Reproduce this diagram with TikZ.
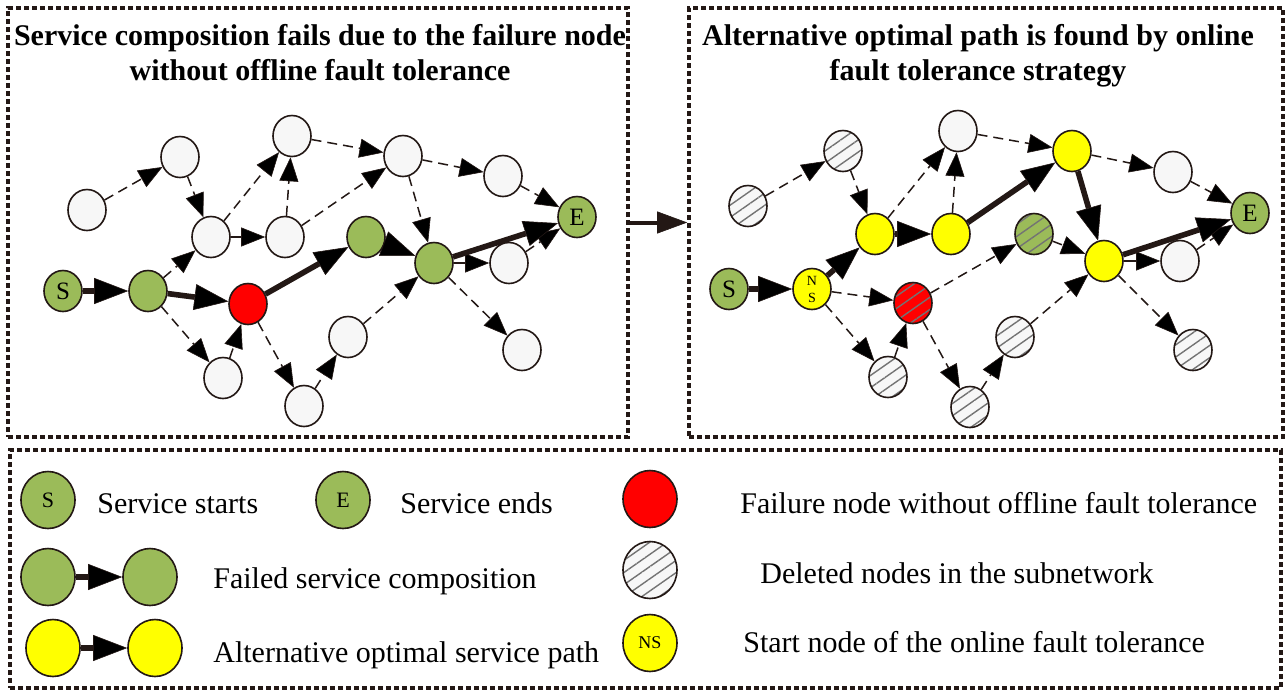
\documentclass[tikz,border=0pt]{standalone}
\usepackage{fontspec}
\setmainfont{Liberation Serif}
\usetikzlibrary{shapes.geometric,arrows.meta,patterns.meta}

\definecolor{ink}{HTML}{231815}
\definecolor{okgreen}{HTML}{9BBB59}
\definecolor{idle}{HTML}{F7F7F7}
\definecolor{failred}{HTML}{FF0000}
\definecolor{altyellow}{HTML}{FFFF00}

\begin{document}
\begin{tikzpicture}[x=0.5pt,y=-0.5pt,
  svc/.style={ellipse,draw=ink,line width=0.8pt,fill=idle,inner sep=0pt,
    minimum width=19pt,minimum height=20.5pt,font=\fontsize{12.5}{12.5}\selectfont},
  big/.style={svc,minimum width=27pt,minimum height=28.5pt,font=\fontsize{11}{11}\selectfont},
  good/.style={fill=okgreen},
  fail/.style={fill=failred},
  alt/.style={fill=altyellow},
  gone/.style={preaction={fill=#1},pattern={Lines[angle=35,distance=5pt,line width=0.7pt]},
    pattern color=black!55},
  gone/.default=idle,
  panel/.style={draw=ink,line width=1.8pt,dash pattern=on 2.5pt off 1.5pt,inner sep=0pt},
  heading/.style={font=\fontsize{15}{17}\selectfont\bfseries,inner sep=0pt,anchor=base},
  entry/.style={font=\fontsize{15}{17}\selectfont,inner sep=0pt,anchor=base west},
  flow/.style={draw=ink,line width=0.75pt,dash pattern=on 5pt off 3pt,
    -{Triangle[length=12pt,width=9.5pt,line width=0.3pt]}},
  link/.style={draw=ink,line width=0.75pt,-{Triangle[length=12pt,width=9.5pt,line width=0.3pt]}},
  route/.style={draw=ink,line width=2.8pt,-{Triangle[length=17pt,width=13pt,line width=0.3pt]}}]
\useasboundingbox (0,0) rectangle (1287,692);

% left panel: composition fails
\node[panel,minimum width=310pt,minimum height=214.5pt] (lpanel) at (318,222.5) {};
\node[heading] (ltitleA) at (320,45) {Service composition fails due to the failure node};
\node[heading] (ltitleB) at (320,80) {without offline fault tolerance};
\node[svc] (L1) at (87,210) {};
\node[svc] (L2) at (180,157) {};
\node[svc] (L3) at (292,136) {};
\node[svc] (L4) at (211,237) {};
\node[svc] (L5) at (285,237) {};
\node[svc,good] (LS) at (63,291) {S};
\node[svc,good] (L6) at (148,291) {};
\node[svc,fail] (L7) at (248,304) {};
\node[svc] (L8) at (223,378) {};
\node[svc] (L9) at (304,406) {};
\node[svc] (L10) at (348,337) {};
\node[svc,good] (L11) at (366,237) {};
\node[svc] (L12) at (403,156) {};
\node[svc] (L13) at (503,176) {};
\node[svc,good] (L14) at (434,263) {};
\node[svc] (L15) at (509,263) {};
\node[svc] (L16) at (522,350) {};
\node[svc,good] (LE) at (577,217) {E};
\path[flow] (L1) edge (L2) (L2) edge (L4) (L4) edge (L3) (L5) edge (L3)
            (L3) edge (L12) (L5) edge (L12) (L12) edge (L13) (L12) edge (L14)
            (L13) edge (LE) (L6) edge (L4) (L15) edge (LE) (L14) edge (L16)
            (L6) edge (L8) (L8) edge (L7) (L7) edge (L9) (L9) edge (L10) (L10) edge (L14);
\path[link] (L4) edge (L5) (L14) edge (L15);
\path[route] (LS) edge (L6) (L6) edge (L7) (L7) edge (L11) (L11) edge (L14) (L14) edge (LE);

% right panel: online fault tolerance
\node[panel,minimum width=297pt,minimum height=214.5pt] (rpanel) at (986,222.5) {};
\node[heading] (rtitleA) at (978,45) {Alternative optimal path is found by online};
\node[heading] (rtitleB) at (978,80) {fault tolerance strategy};
\node[svc,gone] (R1) at (748,206) {};
\node[svc,gone] (R2) at (843,151) {};
\node[svc] (R3) at (958,131) {};
\node[svc,alt] (R4) at (875,234) {};
\node[svc,alt] (R5) at (951,234) {};
\node[svc,good] (RS) at (729,289) {S};
\node[svc,alt,font=\fontsize{7}{8.5}\selectfont,align=center] (R6) at (812,289) {N\\S};
\node[svc,gone=failred] (R7) at (913,303) {};
\node[svc,gone] (R8) at (888,377) {};
\node[svc,gone] (R9) at (970,407) {};
\node[svc,gone] (R10) at (1015,337) {};
\node[svc,gone=okgreen] (R11) at (1034,234) {};
\node[svc,alt] (R12) at (1072,151) {};
\node[svc] (R13) at (1173,172) {};
\node[svc,alt] (R14) at (1104,261) {};
\node[svc] (R15) at (1180,261) {};
\node[svc,gone] (R16) at (1193,350) {};
\node[svc,good] (RE) at (1250,213) {E};
\path[flow] (R1) edge (R2) (R2) edge (R4) (R4) edge (R3) (R5) edge (R3)
            (R3) edge (R12) (R12) edge (R13) (R13) edge (RE) (R6) edge (R7)
            (R7) edge (R11) (R11) edge (R14) (R15) edge (RE) (R14) edge (R16)
            (R6) edge (R8) (R8) edge (R7) (R7) edge (R9) (R9) edge (R10) (R10) edge (R14);
\path[link] (R14) edge (R15);
\path[route] (RS) edge (R6) (R6) edge (R4) (R4) edge (R5) (R5) edge (R12)
             (R12) edge (R14) (R14) edge (RE);

\draw[ink,line width=2pt,-{Triangle[length=15pt,width=11pt,line width=0.3pt]}] (lpanel.east) -- (rpanel.west);

% legend
\node[panel,minimum width=635.5pt,minimum height=119pt] (legend) at (645.5,569) {};
\node[big,good] (kS) at (48,500) {S};
\node[entry] (kStext) at (97,513) {Service starts};
\node[big,good] (kE) at (343,500) {E};
\node[entry] (kEtext) at (400,513) {Service ends};
\node[big,fail] (kRed) at (650,499) {};
\node[entry] (kRedtext) at (740,513) {Failure node without offline fault tolerance};
\node[big,good] (kGa) at (48,577) {};
\node[big,good] (kGb) at (150,577) {};
\node[entry] (kGtext) at (213,588) {Failed service composition};
\node[big,gone] (kDel) at (650,570) {};
\node[entry] (kDeltext) at (760,583) {Deleted nodes in the subnetwork};
\node[big,alt] (kYa) at (53,648) {};
\node[big,alt] (kYb) at (155,648) {};
\node[entry] (kYtext) at (213,662) {Alternative optimal service path};
\node[big,alt,font=\fontsize{9}{9}\selectfont] (kNS) at (650,643) {NS};
\node[entry] (kNStext) at (743,652) {Start node of the online fault tolerance};
\path[route] (kGa) edge (kGb) (kYa) edge (kYb);
\end{tikzpicture}
\end{document}
